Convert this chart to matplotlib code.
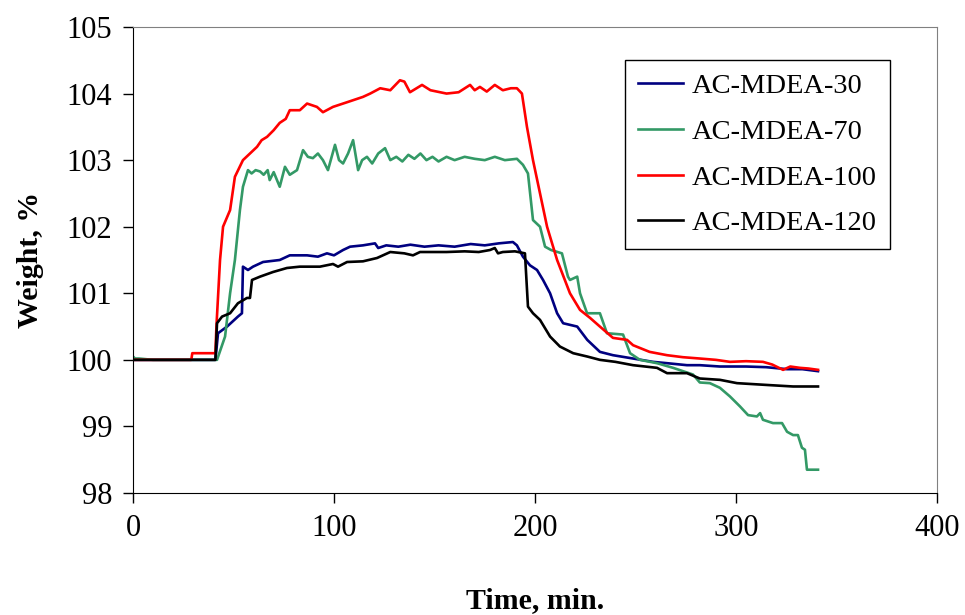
import matplotlib
matplotlib.use('Agg')
import matplotlib.pyplot as plt

plt.rcParams['font.family'] = ['Liberation Serif', 'DejaVu Serif']

# AC-MDEA-30
t30 = [0, 41, 42.3, 46.8, 52.2, 54.2, 54.7, 57.2, 59.7, 64.7,
       73, 78, 86.6, 92, 96.5, 100, 104.5, 108, 114.4, 120.4,
       122, 126, 132, 138, 145, 152, 160, 168, 175, 182,
       189, 191, 194, 197.5, 201, 204, 207.5, 211, 214, 221,
       226, 232.3, 238.8, 248.8, 258.7, 265.7, 275.6, 282, 292, 305,
       315, 325.4, 333, 340.8]
w30 = [100, 100, 100.4, 100.5, 100.65, 100.7, 101.4, 101.35, 101.4, 101.47,
       101.5, 101.57, 101.57, 101.55, 101.6, 101.57, 101.65, 101.7, 101.72, 101.75,
       101.68, 101.72, 101.7, 101.73, 101.7, 101.72, 101.7, 101.74, 101.72, 101.75,
       101.77, 101.72, 101.55, 101.42, 101.35, 101.2, 101.0, 100.7, 100.55, 100.5,
       100.3, 100.12, 100.07, 100.02, 99.97, 99.95, 99.92, 99.92, 99.9, 99.9,
       99.89, 99.86, 99.86, 99.83]

# AC-MDEA-70
t70 = [0, 1, 3, 10, 41.8, 45.8, 48.3, 50.7, 53.2, 54.7,
       57.2, 59, 61, 63.2, 65, 67, 68, 70, 73, 75.6,
       78, 81.6, 84.6, 87, 89.5, 92, 94.5, 97, 100.5, 102.5,
       104.5, 107, 109.5, 112, 114, 116.4, 119, 122, 125.4, 128,
       131, 134, 137, 140, 143, 146, 149, 152, 156, 160,
       165, 170, 175, 180, 185, 191, 194, 196.5, 199, 202.5,
       205, 208, 213.4, 216.4, 217.4, 221, 222.4, 225.9, 232.3, 235.8,
       243.8, 247.3, 252.2, 260.7, 268.7, 278.6, 282, 287, 292, 297,
       302, 306, 310.4, 312, 313.4, 318.4, 322.9, 325.4, 328.4, 330.8,
       332.8, 334.3, 335.3, 340.8]
w70 = [100.05, 100.02, 100.02, 100.0, 100.0, 100.35, 101.0, 101.5, 102.25, 102.6,
       102.85, 102.8, 102.85, 102.83, 102.78, 102.85, 102.7, 102.82, 102.6, 102.9,
       102.78, 102.85, 103.15, 103.05, 103.03, 103.1, 103.0, 102.85, 103.23, 103.0,
       102.95, 103.1, 103.3, 102.85, 103.0, 103.05, 102.95, 103.1, 103.18, 103.0,
       103.05, 102.98, 103.08, 103.02, 103.1, 103.0, 103.05, 102.98, 103.05, 103.0,
       103.05, 103.02, 103.0, 103.05, 103.0, 103.02, 102.93, 102.8, 102.1, 102.0,
       101.7, 101.65, 101.6, 101.25, 101.2, 101.25, 101.0, 100.7, 100.7, 100.4,
       100.38, 100.1, 100.0, 99.95, 99.88, 99.78, 99.66, 99.65, 99.58, 99.45,
       99.3, 99.17, 99.15, 99.2, 99.1, 99.05, 99.05, 98.92, 98.87, 98.87,
       98.68, 98.65, 98.35, 98.35]

# AC-MDEA-100
t100 = [0, 29, 29.5, 41, 41.5, 43.3, 44.8, 48.3, 50.7, 54.7,
        58.2, 61.7, 64, 66.7, 70, 73, 76, 78, 83, 86.6,
        91.5, 94.5, 99.5, 106.5, 114.4, 118, 123, 128, 132.8, 135,
        137.8, 143.8, 148, 156, 162, 167.7, 170, 172.6, 176, 180,
        184, 188, 191, 193.5, 196, 199, 202.5, 206, 211, 217.4,
        222.4, 227.4, 232.3, 238.8, 245.8, 248.8, 257, 265.7, 273.6, 282,
        290, 297, 305, 313.4, 318, 323.4, 327, 331.8, 336, 340.8]
w100 = [100, 100, 100.1, 100.1, 100.5, 101.5, 102.0, 102.25, 102.75, 103.0,
        103.1, 103.2, 103.3, 103.35, 103.45, 103.56, 103.62, 103.75, 103.75, 103.85,
        103.8, 103.72, 103.8, 103.87, 103.95, 104.0, 104.08, 104.05, 104.2, 104.18,
        104.02, 104.13, 104.05, 104.0, 104.02, 104.13, 104.05, 104.1, 104.03, 104.13,
        104.05, 104.08, 104.08, 104.0, 103.5, 103.0, 102.5, 102.0, 101.5, 101.0,
        100.75, 100.63, 100.5, 100.33, 100.3, 100.22, 100.12, 100.07, 100.04, 100.02,
        100.0, 99.97, 99.98, 99.97, 99.93, 99.85, 99.9, 99.88, 99.87, 99.85]

# AC-MDEA-120
t120 = [0, 41, 41.8, 44.3, 48.3, 52.2, 56.7, 58.2, 59.2, 63.2,
        69.7, 76.6, 83, 93, 99.5, 102, 106.5, 114.4, 121.4, 128,
        135, 139.3, 142.8, 150, 156, 165, 172, 177.6, 180, 181.6,
        184, 190, 195, 196.5, 199, 202.5, 207.5, 212.4, 219, 226,
        232.3, 240, 248.8, 260.7, 265.7, 275.6, 282, 292, 300.5, 317,
        328.4, 340.8]
w120 = [100, 100, 100.55, 100.65, 100.7, 100.85, 100.93, 100.93, 101.2, 101.25,
        101.32, 101.38, 101.4, 101.4, 101.44, 101.4, 101.47, 101.48, 101.53, 101.62,
        101.6, 101.57, 101.62, 101.62, 101.62, 101.63, 101.62, 101.65, 101.68, 101.6,
        101.62, 101.63, 101.6, 100.8, 100.7, 100.6, 100.35, 100.2, 100.1, 100.05,
        100.0, 99.97, 99.92, 99.88, 99.8, 99.8, 99.72, 99.7, 99.65, 99.62,
        99.6, 99.6]

fig = plt.figure(figsize=(9.65, 6.15), dpi=100)
ax = fig.add_axes([133/965, 1-493/615, 804/965, 466/615])

ax.plot(t30, w30, color='#000080', lw=1.9, label='AC-MDEA-30')
ax.plot(t70, w70, color='#339966', lw=1.9, label='AC-MDEA-70')
ax.plot(t100, w100, color='#FF0000', lw=1.9, label='AC-MDEA-100')
ax.plot(t120, w120, color='black', lw=1.9, label='AC-MDEA-120')

ax.set_xlim(0, 400)
ax.set_ylim(98, 105)
ax.set_xticks([0, 100, 200, 300, 400])
ax.set_yticks([98, 99, 100, 101, 102, 103, 104, 105])
ax.tick_params(direction='out', length=7, width=1, labelsize=22, pad=8)

for s in ['top', 'right']:
    ax.spines[s].set_color('#808080')
for s in ['left', 'bottom']:
    ax.spines[s].set_color('black')

ax.set_xlabel('Time, min.', fontsize=21.5, fontweight='bold', labelpad=32)
ax.set_ylabel('Weight, %', fontsize=21.5, fontweight='bold', labelpad=16)

leg = ax.legend(loc='upper right', bbox_to_anchor=(0.941, 0.929), fontsize=20.5,
                frameon=True, fancybox=False, edgecolor='black', framealpha=1,
                handlelength=1.6, handletextpad=0.3, labelspacing=0.7,
                borderpad=0.45, borderaxespad=0)
leg.get_frame().set_linewidth(1.0)

plt.savefig('out.png', dpi=100)
